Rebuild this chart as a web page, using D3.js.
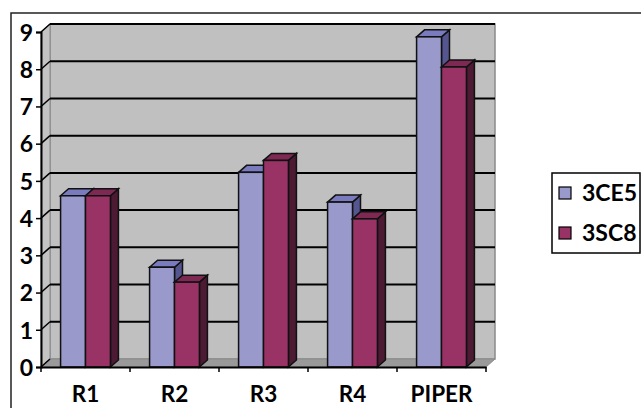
<html>
<head>
<style>
  body { margin: 0; background: #fff; }
  text { font-family: Lato, "Open Sans", sans-serif; font-weight: bold; fill: #000; }
</style>
</head>
<body>
<script src="https://cdn.jsdelivr.net/npm/d3@7"></script>
<svg id="chart" width="641" height="408"></svg>
<script>
  // data
  const categories = ["R1", "R2", "R3", "R4", "PIPER"];
  const seriesNames = ["3CE5", "3SC8"];
  const valuesCE5 = [4.6, 2.68, 5.23, 4.43, 8.87];
  const valuesSC8 = [4.6, 2.28, 5.55, 3.98, 8.06];
  const yTicks = [0, 1, 2, 3, 4, 5, 6, 7, 8, 9];

  const colors = {
    "3CE5": { front: "#9999cc", top: "#7a7abf", side: "#55558f" },
    "3SC8": { front: "#993366", top: "#7d2953", side: "#4d1a33" }
  };

  const svg = d3.select("#chart");
  const plotLeft = 41, plotRight = 486, plotBottom = 367, plotTop = 32;
  const wdx = 9, wdy = 8;   // wall depth
  const bdx = 8, bdy = 7;   // bar depth

  let x = d3.scaleBand().domain(categories).range([plotLeft, plotRight])
            .paddingInner(0.44).paddingOuter(0.22);
  let x1 = d3.scaleBand().domain(seriesNames).range([0, x.bandwidth()]);
  let y = d3.scaleLinear().domain([0, 9]).range([plotBottom, plotTop]);

  // outer frame
  svg.append("rect").attr("x", 11).attr("y", 13).attr("width", 700).attr("height", 500)
     .attr("fill", "none").attr("stroke", "#222").attr("stroke-width", 1.5);

  // back wall
  svg.append("rect").attr("x", plotLeft + wdx).attr("y", plotTop - wdy)
     .attr("width", plotRight - plotLeft).attr("height", plotBottom - plotTop)
     .attr("fill", "#c0c0c0").attr("stroke", "#8a8a8a").attr("stroke-width", 1.5);
  // left side wall
  svg.append("polygon")
     .attr("points", [[plotLeft, plotBottom], [plotLeft + wdx, plotBottom - wdy], [plotLeft + wdx, plotTop - wdy], [plotLeft, plotTop]].join(" "))
     .attr("fill", "#c4c4c4").attr("stroke", "#8a8a8a");
  // floor
  svg.append("polygon")
     .attr("points", [[plotLeft, plotBottom], [plotRight, plotBottom], [plotRight + wdx, plotBottom - wdy], [plotLeft + wdx, plotBottom - wdy]].join(" "))
     .attr("fill", "#9a9a9a").attr("stroke", "#8a8a8a");

  // gridlines on back wall + diagonals on side wall
  let grid = svg.append("g");
  grid.selectAll("line.g").data(yTicks.slice(1)).enter().append("line")
      .attr("x1", plotLeft + wdx).attr("x2", plotRight + wdx)
      .attr("y1", d => y(d) - wdy).attr("y2", d => y(d) - wdy)
      .attr("stroke", "#000").attr("stroke-width", 2);
  grid.selectAll("line.d").data(yTicks).enter().append("line")
      .attr("x1", plotLeft).attr("x2", plotLeft + wdx)
      .attr("y1", d => y(d)).attr("y2", d => y(d) - wdy)
      .attr("stroke", "#000").attr("stroke-width", 1.5);

  // bars
  let rows = [];
  categories.forEach((c, i) => {
    rows.push({ cat: c, s: "3CE5", v: valuesCE5[i] });
    rows.push({ cat: c, s: "3SC8", v: valuesSC8[i] });
  });
  let bars = svg.append("g").selectAll("g").data(rows).enter().append("g");
  bars.append("polygon") // side
      .attr("points", d => {
        let x0 = x(d.cat) + x1(d.s) + x1.bandwidth(), y0 = y(d.v);
        return [[x0, plotBottom], [x0 + bdx, plotBottom - bdy], [x0 + bdx, y0 - bdy], [x0, y0]].join(" ");
      })
      .attr("fill", d => colors[d.s].side).attr("stroke", "#111").attr("stroke-width", 1.5);
  bars.append("polygon") // top
      .attr("points", d => {
        let x0 = x(d.cat) + x1(d.s), w = x1.bandwidth(), y0 = y(d.v);
        return [[x0, y0], [x0 + bdx, y0 - bdy], [x0 + w + bdx, y0 - bdy], [x0 + w, y0]].join(" ");
      })
      .attr("fill", d => colors[d.s].top).attr("stroke", "#111").attr("stroke-width", 1.5);
  bars.append("rect") // front
      .attr("x", d => x(d.cat) + x1(d.s))
      .attr("y", d => y(d.v))
      .attr("width", x1.bandwidth())
      .attr("height", d => plotBottom - y(d.v))
      .attr("fill", d => colors[d.s].front).attr("stroke", "#111").attr("stroke-width", 1.5);

  // y axis
  let yAxis = svg.append("g").attr("transform", `translate(${plotLeft},0)`)
      .call(d3.axisLeft(y).tickValues(yTicks).tickSize(5).tickPadding(3));
  yAxis.select(".domain").attr("stroke", "#000").attr("stroke-width", 2);
  yAxis.selectAll(".tick line").attr("stroke", "#000").attr("stroke-width", 1.5);
  yAxis.selectAll("text").style("font-size", "23px").attr("fill", "#000").attr("dy", "0.36em");

  // x axis
  let xAxis = svg.append("g").attr("transform", `translate(0,${plotBottom})`)
      .call(d3.axisBottom(x).tickSize(0).tickPadding(19));
  xAxis.select(".domain").attr("stroke", "#000").attr("stroke-width", 2);
  xAxis.selectAll("text").style("font-size", "22.5px").attr("fill", "#000");
  let bounds = categories.map(c => x(c) - x.step() * x.paddingInner() / 2);
  bounds.push(plotRight);
  xAxis.selectAll("line.b").data(bounds).enter().append("line")
      .attr("x1", d => d).attr("x2", d => d).attr("y1", 0).attr("y2", 5)
      .attr("stroke", "#000").attr("stroke-width", 1.5);

  // legend
  let legend = svg.append("g").attr("transform", "translate(552,173)");
  legend.append("rect").attr("width", 88).attr("height", 80)
        .attr("fill", "#fff").attr("stroke", "#000").attr("stroke-width", 1.5);
  let items = legend.selectAll("g").data(seriesNames).enter().append("g")
        .attr("transform", (d, i) => `translate(7,${14 + i * 40})`);
  items.append("rect").attr("width", 12).attr("height", 12)
       .attr("fill", d => colors[d].front).attr("stroke", "#000").attr("stroke-width", 1.2);
  items.append("text").attr("x", 23).attr("y", 6).attr("dy", "0.36em")
       .style("font-size", "23px").text(d => d);
</script>
</body>
</html>
